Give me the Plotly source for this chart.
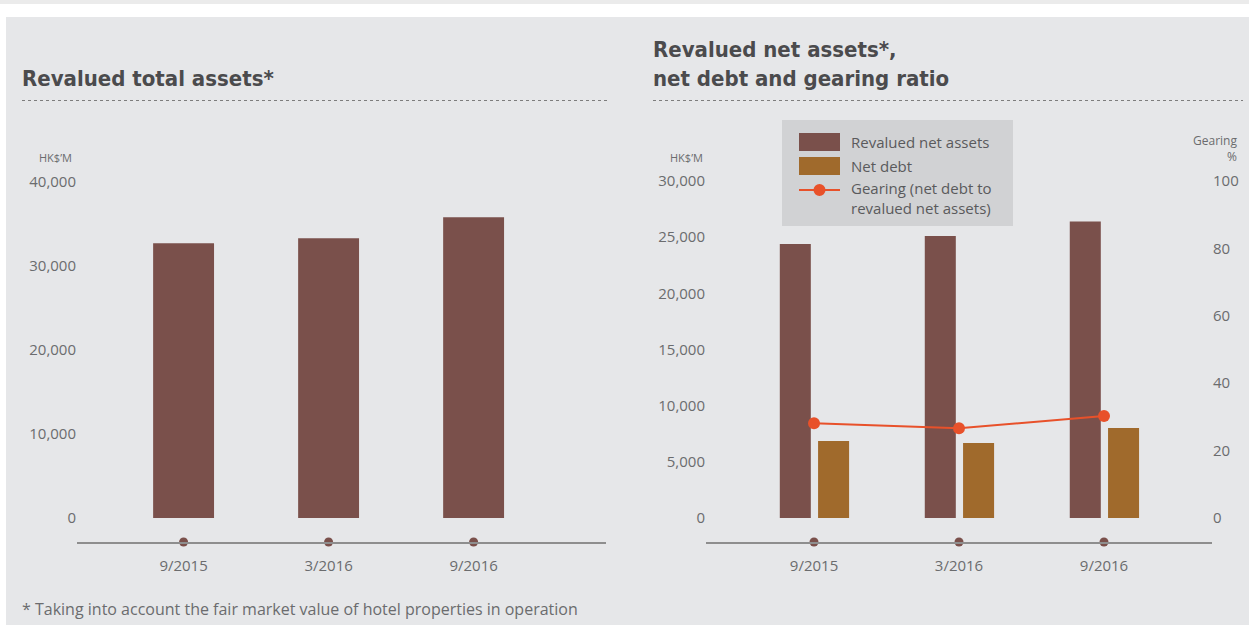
import plotly.graph_objects as go

# ---------------- data ----------------
periods = ["9/2015", "3/2016", "9/2016"]
total_assets = [32700, 33300, 35800]          # HK$'M
net_assets = [24400, 25100, 26400]            # HK$'M
net_debt = [6850, 6680, 8010]                 # HK$'M
gearing = [28.1, 26.6, 30.3]                  # %

left_ticks = [0, 10000, 20000, 30000, 40000]
right_ticks = [0, 5000, 10000, 15000, 20000, 25000, 30000]
gearing_ticks = [0, 20, 40, 60, 80, 100]

# ---------------- style ----------------
W, H = 1249, 625
BG = "#e6e7e9"
C_ASSETS = "#7a504b"
C_DEBT = "#a06a2c"
C_GEAR = "#e8512a"
C_TITLE = "#4b4b4d"
C_TICK = "#6b6c6e"
C_AXIS = "#8e8e8e"
TITLE_FONT = "DejaVu Sans Condensed, Liberation Sans Narrow, sans-serif"
BODY_FONT = "Open Sans, Lato, sans-serif"


def px_x(p):
    return p / W


def px_y(p):
    return 1 - p / H


# axis ranges (value units)
L_YMIN, L_YMAX = -2857, 41430
R_YMIN, R_YMAX = -2136, 30980
G_YMIN, G_YMAX = R_YMIN / 300.0, R_YMAX / 300.0
Y_DOMAIN = [px_y(542), px_y(170)]

fig = go.Figure()

# left chart bars
fig.add_trace(go.Bar(
    x=periods, y=total_assets, xaxis="x", yaxis="y",
    marker=dict(color=C_ASSETS, line=dict(width=0)),
    width=0.42, name="Revalued total assets", showlegend=False,
    hoverinfo="x+y",
))
# category dots on left axis line
fig.add_trace(go.Scatter(
    x=periods, y=[L_YMIN] * len(periods), xaxis="x", yaxis="y",
    mode="markers", marker=dict(color=C_ASSETS, size=9),
    cliponaxis=False, showlegend=False, hoverinfo="skip",
))

# right chart bars
fig.add_trace(go.Bar(
    x=periods, y=net_assets, xaxis="x2", yaxis="y2",
    marker=dict(color=C_ASSETS, line=dict(width=0)),
    width=0.214, offset=-0.236, name="Revalued net assets", showlegend=False,
))
fig.add_trace(go.Bar(
    x=periods, y=net_debt, xaxis="x2", yaxis="y2",
    marker=dict(color=C_DEBT, line=dict(width=0)),
    width=0.214, offset=0.028, name="Net debt", showlegend=False,
))
# category dots on right axis line
fig.add_trace(go.Scatter(
    x=periods, y=[R_YMIN] * len(periods), xaxis="x2", yaxis="y2",
    mode="markers", marker=dict(color=C_ASSETS, size=9),
    cliponaxis=False, showlegend=False, hoverinfo="skip",
))
# gearing line
fig.add_trace(go.Scatter(
    x=periods, y=gearing, xaxis="x2", yaxis="y3",
    mode="lines+markers", line=dict(color=C_GEAR, width=2),
    marker=dict(color=C_GEAR, size=12),
    name="Gearing (net debt to revalued net assets)", showlegend=False,
))

tickfont = dict(family=BODY_FONT, size=15, color=C_TICK)
xcommon = dict(
    type="category", showgrid=False, zeroline=False,
    showline=True, linecolor=C_AXIS, linewidth=2,
    ticks="outside", ticklen=9, tickcolor="rgba(0,0,0,0)",
    tickfont=tickfont, fixedrange=True,
)

fig.update_layout(
    width=W, height=H,
    margin=dict(l=0, r=0, t=0, b=0),
    paper_bgcolor=BG, plot_bgcolor="rgba(0,0,0,0)",
    barmode="overlay",
    showlegend=False,
    xaxis=dict(xcommon, domain=[px_x(77), px_x(606)], anchor="y",
               range=[-0.735, 2.913]),
    yaxis=dict(domain=Y_DOMAIN, anchor="x", range=[L_YMIN, L_YMAX],
               tickvals=left_ticks, tickformat=",d", showgrid=False,
               zeroline=False, showline=False, ticks="", tickfont=tickfont,
               fixedrange=True),
    xaxis2=dict(xcommon, domain=[px_x(706), px_x(1212)], anchor="y2",
                range=[-0.745, 2.745]),
    yaxis2=dict(domain=Y_DOMAIN, anchor="x2", range=[R_YMIN, R_YMAX],
                tickvals=right_ticks, tickformat=",d", showgrid=False,
                zeroline=False, showline=False, ticks="", tickfont=tickfont,
                fixedrange=True),
    yaxis3=dict(overlaying="y2", anchor="x2", side="right",
                range=[G_YMIN, G_YMAX], tickvals=gearing_ticks,
                showgrid=False, zeroline=False, showline=False, ticks="",
                tickfont=tickfont, fixedrange=True),
)

shapes = []
# white strip at top and left edge, thin grey rule at very top
shapes.append(dict(type="rect", xref="paper", yref="paper",
                   x0=0, x1=1, y0=px_y(17), y1=1,
                   fillcolor="white", line=dict(width=0), layer="below"))
shapes.append(dict(type="rect", xref="paper", yref="paper",
                   x0=0, x1=px_x(6), y0=0, y1=1,
                   fillcolor="white", line=dict(width=0), layer="below"))
shapes.append(dict(type="rect", xref="paper", yref="paper",
                   x0=0, x1=1, y0=px_y(4), y1=1,
                   fillcolor="#ebebeb", line=dict(width=0), layer="below"))
# dotted separators under titles
for x0, x1 in [(22, 607), (653, 1243)]:
    shapes.append(dict(type="line", xref="paper", yref="paper",
                       x0=px_x(x0), x1=px_x(x1), y0=px_y(100.5), y1=px_y(100.5),
                       line=dict(color="#7d7d7d", width=1, dash="dot")))

# custom legend
shapes.append(dict(type="rect", xref="paper", yref="paper",
                   x0=px_x(782), x1=px_x(1013), y0=px_y(226), y1=px_y(120),
                   fillcolor="#d1d2d4", line=dict(width=0), layer="below"))
shapes.append(dict(type="rect", xref="paper", yref="paper",
                   x0=px_x(799), x1=px_x(840), y0=px_y(151), y1=px_y(133),
                   fillcolor=C_ASSETS, line=dict(width=0)))
shapes.append(dict(type="rect", xref="paper", yref="paper",
                   x0=px_x(799), x1=px_x(840), y0=px_y(175), y1=px_y(157),
                   fillcolor=C_DEBT, line=dict(width=0)))
shapes.append(dict(type="line", xref="paper", yref="paper",
                   x0=px_x(799), x1=px_x(840), y0=px_y(190), y1=px_y(190),
                   line=dict(color=C_GEAR, width=2)))
shapes.append(dict(type="circle", xref="paper", yref="paper",
                   x0=px_x(813.5), x1=px_x(825.5), y0=px_y(196), y1=px_y(184),
                   fillcolor=C_GEAR, line=dict(width=0)))
fig.update_layout(shapes=shapes)

annotations = []


def ann(text, x, y, size, color, family, xanchor="left", yanchor="middle",
        align="left"):
    annotations.append(dict(text=text, xref="paper", yref="paper",
                            x=px_x(x), y=px_y(y), showarrow=False,
                            xanchor=xanchor, yanchor=yanchor, align=align,
                            font=dict(size=size, color=color, family=family)))


ann("<b>Revalued total assets*</b>", 20, 78, 22, C_TITLE, TITLE_FONT)
ann("<b>Revalued net assets*,<br>net debt and gearing ratio</b>", 651, 64, 22,
    C_TITLE, TITLE_FONT)
ann("HK$’M", 74, 157, 11, C_TICK, BODY_FONT, xanchor="right")
ann("HK$’M", 705, 157, 11, C_TICK, BODY_FONT, xanchor="right")
ann("Gearing<br>%", 1239, 149, 12, C_TICK, BODY_FONT, xanchor="right",
    align="right")
ann("Revalued net assets", 849, 142, 15, "#5a5a5c", BODY_FONT)
ann("Net debt", 849, 166, 15, "#5a5a5c", BODY_FONT)
ann("Gearing (net debt to<br>revalued net assets)", 849, 198, 15, "#5a5a5c",
    BODY_FONT)
ann("* Taking into account the fair market value of hotel properties in operation",
    20, 609, 16, C_TICK, BODY_FONT)
fig.update_layout(annotations=annotations)

fig.write_html(
    "out.html",
    config={"displayModeBar": False},
    post_script="document.body.style.margin='0';"
                "document.body.style.overflow='hidden';",
)
